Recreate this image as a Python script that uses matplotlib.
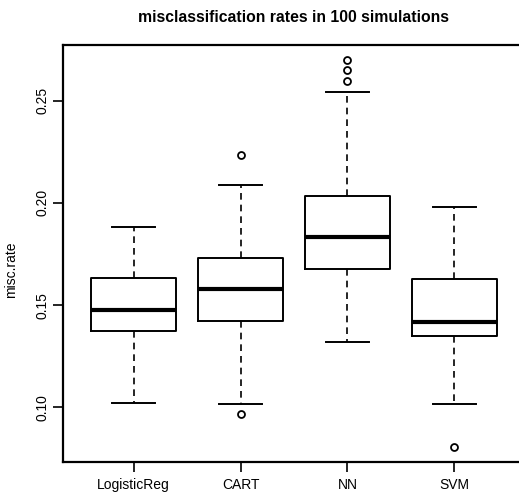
import matplotlib
matplotlib.use("Agg")
import matplotlib.pyplot as plt

plt.rcParams['font.family'] = ['Liberation Sans', 'DejaVu Sans']

# values
methods = ["LogisticReg", "CART", "NN", "SVM"]
q1 = [0.1374, 0.1423, 0.1678, 0.1348]
medians = [0.1477, 0.1577, 0.1833, 0.1420]
q3 = [0.1631, 0.1730, 0.2036, 0.1627]
whis_lo = [0.1020, 0.1018, 0.1319, 0.1015]
whis_hi = [0.1884, 0.2090, 0.2543, 0.1982]
outliers = [[], [0.2235, 0.0966], [0.2698, 0.2649, 0.2595], [0.0809]]
yticks = [0.10, 0.15, 0.20, 0.25]

stats = []
for i, name in enumerate(methods):
    stats.append(dict(label=name, q1=q1[i], med=medians[i], q3=q3[i],
                      whislo=whis_lo[i], whishi=whis_hi[i], fliers=outliers[i]))

fig = plt.figure(figsize=(5.19, 4.94), dpi=100)
ax = fig.add_axes([63 / 519, 32 / 494, 462 / 519, 417.3 / 494])

ax.bxp(stats, positions=[1, 2, 3, 4], widths=0.8, capwidths=0.4,
       boxprops=dict(color="black", linewidth=1.4),
       medianprops=dict(color="black", linewidth=3),
       whiskerprops=dict(color="black", linewidth=1.2, linestyle=(0, (4, 3))),
       capprops=dict(color="black", linewidth=1.4),
       flierprops=dict(marker="o", markersize=5, markerfacecolor="white",
                       markeredgecolor="black", markeredgewidth=1.3))

# R style axis limits: data range plus 4 %
all_vals = whis_lo + whis_hi + [v for o in outliers for v in o]
lo, hi = min(all_vals), max(all_vals)
pad = (hi - lo) * 0.04
ax.set_ylim(lo - pad, hi + pad)
ax.set_xlim(0.34, 4.66)

ax.set_yticks(yticks)
ax.set_yticklabels(["%.2f" % v for v in yticks], rotation=90, va="center", fontsize=10)
ax.set_xticks([1, 2, 3, 4])
ax.set_xticklabels(methods, fontsize=10)
ax.tick_params(length=7, width=1.2)
ax.tick_params(axis="x", pad=4.5)
ax.tick_params(axis="y", pad=3)

for s in ax.spines.values():
    s.set_linewidth(1.6)

ax.set_title("misclassification rates in 100 simulations", fontsize=11.3,
             fontweight="bold", pad=16)
fig.text(11 / 519, 1 - 270 / 494, "misc.rate", rotation=90, ha="center",
         va="center", fontsize=10)

fig.savefig("out.png", dpi=100)
